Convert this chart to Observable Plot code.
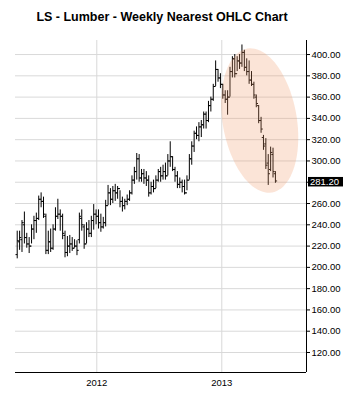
<!DOCTYPE html>
<html>
<head>
<meta charset="utf-8">
<script src="https://cdn.jsdelivr.net/npm/d3@7"></script>
<script src="https://cdn.jsdelivr.net/npm/@observablehq/plot@0.6"></script>
<style>
  html, body { margin: 0; padding: 0; background: #fff; }
  #wrap { width: 354px; height: 412px; position: relative; overflow: hidden; }
  #title { width: 324px; height: 28px; box-sizing: border-box; padding-top: 10px; line-height: 15px;
           font: bold 12.5px "Liberation Sans", Arial, sans-serif; text-align: center; color: #000; }
</style>
</head>
<body>
<div id="wrap">
  <div id="title">LS - Lumber - Weekly Nearest OHLC Chart</div>
  <div id="chart"></div>
</div>
<script>
// ---- data (weekly bars) ----
const firstWeek = "2011-05-13";
const opens = [212,224,226,240,228,222,220,236,244,246,
  264,262,248,216,224,218,236,248,250,248,
  230,214,220,222,218,220,226,246,238,222,
  236,232,244,250,248,242,238,242,258,270,
  264,272,270,274,262,258,262,264,270,282,
  290,302,284,288,284,282,270,276,274,282,
  290,286,290,286,300,304,292,286,278,280,
  276,270,282,302,314,326,324,332,334,344,
  338,352,358,370,386,378,372,362,358,360,
  384,396,382,394,392,402,388,384,376,372,
  360,352,338,322,316,298,292,306,288];
const highs = [234,234,244,252,232,228,240,248,251,267,
  270,266,250,234,236,240,256,264,254,250,
  234,229,230,228,226,225,251,254,240,242,
  244,248,259,254,254,250,247,263,277,274,
  276,278,276,272,266,264,268,272,286,294,
  307,306,292,292,290,286,280,282,286,292,
  294,296,298,306,318,304,294,290,284,282,
  282,286,306,318,328,332,336,338,346,346,
  356,360,372,394,386,382,372,366,366,388,
  398,400,398,400,409,404,396,394,384,374,
  362,352,341,324,321,306,313,312,290];
const lows = [208,216,214,222,218,213,222,226,232,244,
  256,246,212,212,214,216,234,245,234,226,
  209,210,213,215,218,211,222,234,217,222,
  228,228,235,240,236,233,236,238,258,258,
  260,262,264,256,252,254,258,262,268,278,
  282,280,280,278,276,266,268,270,274,280,
  280,282,282,286,294,290,280,274,274,270,
  268,272,282,296,308,320,318,322,330,330,
  336,346,356,370,374,368,358,354,343,360,
  378,378,384,386,388,384,380,372,370,358,
  350,335,326,310,292,277,290,284,279];
const closes = [225,228,242,228,222,220,236,244,246,264,
  262,250,216,224,218,236,248,250,248,232,
  214,220,222,218,220,216,248,240,222,236,
  232,244,250,248,242,238,242,258,270,264,
  272,270,274,262,258,262,264,270,282,290,
  302,284,288,284,282,270,276,274,282,290,
  286,290,286,300,304,292,286,278,280,276,
  270,282,302,314,326,324,332,334,344,338,
  352,358,370,386,378,372,362,358,360,384,
  396,382,394,392,402,388,384,376,372,362,
  354,338,330,314,296,288,308,290,281.2];
const yTicks = [120,140,160,180,200,220,240,260,280,300,320,340,360,380,400];
const xTickYears = ["2012-01-01","2013-01-01"];

// ---- build table ----
const DAY = 864e5;
const t0 = new Date(firstWeek + "T00:00:00Z").getTime();
const bars = opens.map((o, i) => ({
  date: new Date(t0 + i * 7 * DAY), open: o, high: highs[i], low: lows[i], close: closes[i]
}));
const tickLen = 5 * DAY;
const last = closes[closes.length - 1];

const xDomain = [new Date("2011-05-08T00:00:00Z"), new Date("2013-09-06T00:00:00Z")];
const yDomain = [101.2, 413.2];

// highlight ellipse (annotation), in data units
const ell = { cx: new Date("2013-04-22T00:00:00Z").getTime(), cy: 338,
  ax: -36 * DAY, ay: 67.6, bx: 107 * DAY, by: 5.8 };
const ellPts = d3.range(0, 97).map(k => {
  const t = k / 96 * 2 * Math.PI;
  return { x: new Date(ell.cx + Math.cos(t) * ell.ax + Math.sin(t) * ell.bx),
           y: ell.cy + Math.cos(t) * ell.ay + Math.sin(t) * ell.by };
});

const grid = "#d9d9d9";
const font = "'Liberation Sans', Arial, sans-serif";
const plot = Plot.plot({
  width: 354, height: 384,
  marginTop: 12, marginBottom: 40, marginLeft: 15, marginRight: 48,
  style: { fontFamily: font, fontSize: "9.5px", color: "#000", background: "#fff" },
  x: { type: "utc", domain: xDomain },
  y: { domain: yDomain },
  marks: [
    Plot.gridY(yTicks, { stroke: grid, strokeOpacity: 1 }),
    Plot.gridX(xTickYears.map(s => new Date(s + "T00:00:00Z")), { stroke: grid, strokeOpacity: 1 }),
    Plot.ruleX(bars, { x: "date", y1: "low", y2: "high", stroke: "#000", strokeWidth: 1 }),
    Plot.link(bars, { x1: d => new Date(+d.date - tickLen), x2: "date", y1: "open", y2: "open", stroke: "#000", strokeWidth: 1 }),
    Plot.link(bars, { x1: "date", x2: d => new Date(+d.date + tickLen), y1: "close", y2: "close", stroke: "#000", strokeWidth: 1 }),
    Plot.line(ellPts, { x: "x", y: "y", fill: "rgb(240,150,100)", fillOpacity: 0.26, stroke: "none", curve: "linear" }),
    Plot.ruleY([yDomain[0]], { stroke: "#000" }),
    Plot.ruleX([xDomain[1]], { stroke: "#000" }),
    Plot.axisY({ anchor: "right", ticks: yTicks, tickFormat: d => (Math.abs(d - last) < 5 ? "" : d.toFixed(2)), tickSize: 3, tickPadding: 2, label: null }),
    Plot.axisX({ ticks: xTickYears.map(s => new Date(s + "T00:00:00Z")), tickFormat: d3.utcFormat("%Y"), tickSize: 0, tickPadding: 7, label: null })
  ]
});
document.getElementById("chart").appendChild(plot);

// last price label using the plot's own scales
const sx = plot.scale("x"), sy = plot.scale("y");
const px = sx.apply(xDomain[1]), py = sy.apply(last);
const svg = d3.select(plot);
const lab = svg.append("g");
lab.append("rect").attr("x", px + 2).attr("y", py - 3.5).attr("width", 35).attr("height", 9.5).attr("fill", "#000");
lab.append("text").attr("x", px + 4).attr("y", py + 1.2).attr("dy", "0.32em")
  .attr("text-anchor", "start")
  .attr("fill", "#fff").attr("font-size", 9.5).attr("font-family", font)
  .text(last.toFixed(2));
</script>
</body>
</html>
